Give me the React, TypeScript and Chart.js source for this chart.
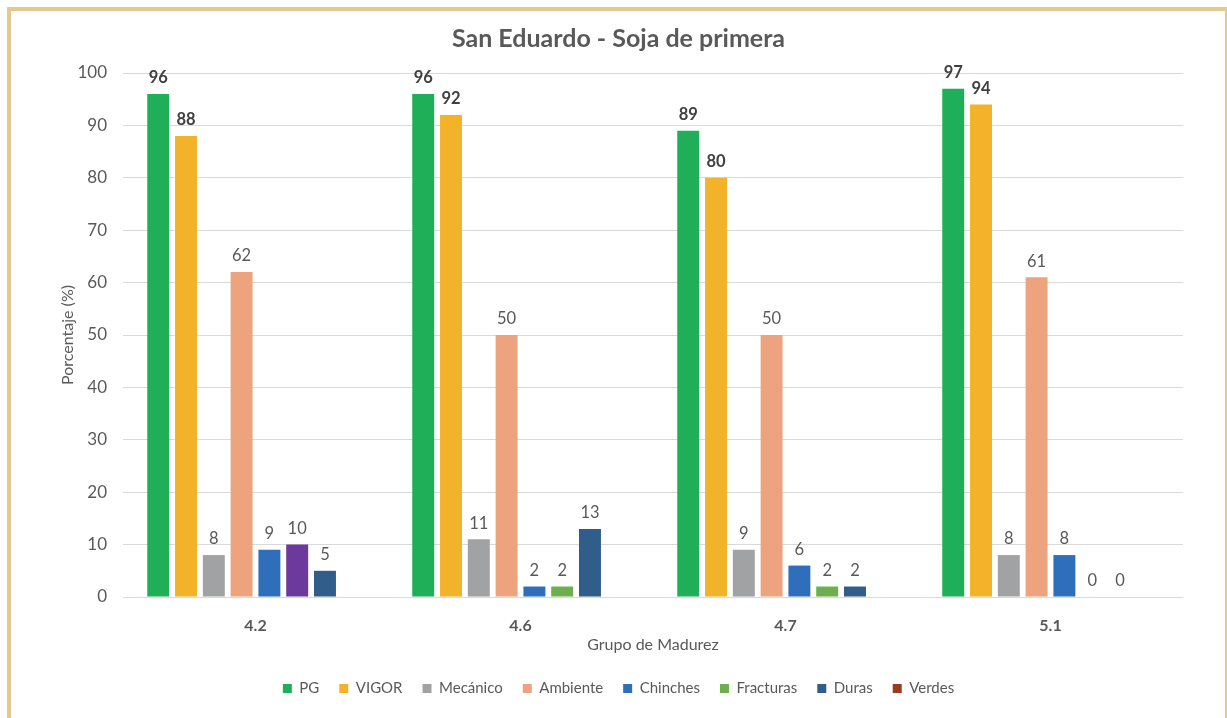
import React, { useEffect, useRef } from "react";
import { Chart, registerables } from "chart.js";

Chart.register(...registerables);

const categories = ["4.2", "4.6", "4.7", "5.1"];
const pg = [96, 96, 89, 97];
const vigor = [88, 92, 80, 94];
const mecanico = [8, 11, 9, 8];
const ambiente = [62, 50, 50, 61];
const chinches = [9, 2, 6, 8];
const fracturas = [10, 2, 2, 0];
const duras = [5, 13, 2, 0];
const verdes: (number | null)[] = [null, null, null, null];
const yTicks = [0, 10, 20, 30, 40, 50, 60, 70, 80, 90, 100];

const seriesNames = ["PG", "VIGOR", "Mecánico", "Ambiente", "Chinches", "Fracturas", "Duras", "Verdes"];
const seriesColors = ["#1FAF58", "#F2B32B", "#A0A2A3", "#EDA37D", "#2F6EBA", "#6DAF4F", "#305D8A", "#9C3B1F"];
const fracturasPointColors = ["#6C3A9C", "#6DAF4F", "#6DAF4F", "#6DAF4F"];

const FONT = "Lato, 'Open Sans', sans-serif";

const labelPlugin = {
  id: "valueLabels",
  afterDatasetsDraw(chart: any) {
    const ctx = chart.ctx;
    ctx.save();
    ctx.textAlign = "center";
    ctx.textBaseline = "middle";
    chart.data.datasets.forEach((ds: any, di: number) => {
      const meta = chart.getDatasetMeta(di);
      if (meta.hidden) return;
      meta.data.forEach((el: any, i: number) => {
        const v = ds.data[i];
        if (v === null || v === undefined) return;
        const bold = di < 2;
        ctx.font = `${bold ? "bold " : ""}16.5px ${FONT}`;
        ctx.fillStyle = bold ? "#404040" : "#595959";
        ctx.fillText(String(v), el.x, el.y - 16);
      });
    });
    ctx.restore();
  },
};

export default function App() {
  const ref = useRef<HTMLCanvasElement>(null);
  useEffect(() => {
    if (!ref.current) return;
    const allData = [pg, vigor, mecanico, ambiente, chinches, fracturas, duras, verdes];
    const chart = new Chart(ref.current, {
      type: "bar",
      data: {
        labels: categories,
        datasets: allData.map((d, i) => ({
          label: seriesNames[i],
          data: d,
          backgroundColor: i === 5 ? fracturasPointColors : seriesColors[i],
          borderWidth: 0,
          categoryPercentage: 0.839,
          barPercentage: 0.79,
        })) as any,
      },
      options: {
        animation: false,
        responsive: true,
        maintainAspectRatio: false,
        layout: { padding: { left: 54, right: 44, top: 0, bottom: 12 } },
        plugins: {
          title: {
            display: true,
            text: "San Eduardo - Soja de primera",
            color: "#595959",
            font: { family: FONT, size: 25, weight: "bold" },
            padding: { top: 24, bottom: 19 },
          },
          legend: {
            position: "bottom",
            labels: {
              boxWidth: 9,
              boxHeight: 9,
              padding: 20,
              color: "#595959",
              font: { family: FONT, size: 15 },
              generateLabels: (c: any) =>
                c.data.datasets.map((ds: any, i: number) => ({
                  text: ds.label,
                  fillStyle: seriesColors[i],
                  strokeStyle: seriesColors[i],
                  lineWidth: 0,
                  fontColor: "#595959",
                  hidden: false,
                  datasetIndex: i,
                })),
            },
          },
          tooltip: { enabled: false },
        },
        scales: {
          x: {
            grid: { display: false },
            border: { display: false },
            ticks: {
              color: "#595959",
              font: { family: FONT, size: 16, weight: "bold" },
              padding: 11,
            },
            title: {
              display: true,
              text: "Grupo de Madurez",
              color: "#595959",
              font: { family: FONT, size: 16 },
              padding: { top: 4, bottom: 7 },
            },
            afterFit: (s: any) => {
              s.height = 64;
            },
          },
          y: {
            min: 0,
            max: 100,
            afterBuildTicks: (s: any) => {
              s.ticks = yTicks.map((v) => ({ value: v }));
            },
            grid: { color: "#D9D9D9", drawTicks: false, lineWidth: 1 },
            border: { display: false },
            ticks: {
              color: "#595959",
              font: { family: FONT, size: 17 },
              padding: 16,
            },
            title: {
              display: true,
              text: "Porcentaje (%)",
              color: "#595959",
              font: { family: FONT, size: 16 },
              padding: { top: 4, bottom: 4 },
            },
            afterFit: (s: any) => {
              s.width = 69;
            },
          },
        },
      },
      plugins: [labelPlugin],
    });
    return () => chart.destroy();
  }, []);

  return (
    <>
      <div
        style={{
          position: "fixed",
          left: 0,
          top: 0,
          width: 1227,
          height: 718,
          background: "#ffffff",
        }}
      >
        <canvas ref={ref} />
      </div>
      <div
        style={{
          position: "fixed",
          left: 7,
          top: 7,
          width: 1222,
          height: 724,
          boxSizing: "border-box",
          border: "4px solid #E3C98C",
          pointerEvents: "none",
        }}
      />
    </>
  );
}
